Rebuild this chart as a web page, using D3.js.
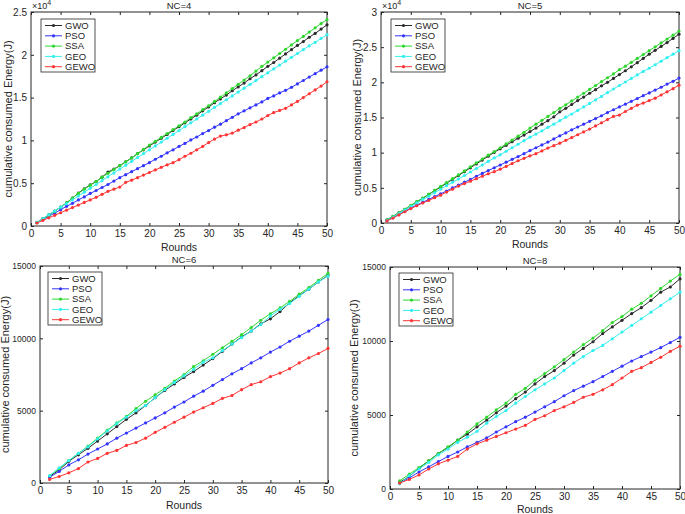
<!DOCTYPE html>
<html>
<head>
<meta charset="utf-8">
<script src="https://cdn.jsdelivr.net/npm/d3@7"></script>
<style>
  body { margin: 0; background: #fff; }
  svg { display: block; font-family: "Liberation Sans", Arial, sans-serif; }
  .tick text { fill: #262626; }
</style>
</head>
<body>
<div id="chart"></div>
<script>
// rounds (x values)
var roundsA = [1,2,3,4,5,6,7,8,9,10,11,12,13,14,15,16,17,18,19,20,21,22,23,24,25,
  26,27,28,29,30,31,32,33,34,35,36,37,38,39,40,41,42,43,44,45,46,47,48,49,50];
var roundsB = [1.67,3.33,5,6.67,8.33,10,11.67,13.33,15,16.67,18.33,20,21.67,23.33,25,
  26.67,28.33,30,31.67,33.33,35,36.67,38.33,40,41.67,43.33,45,46.67,48.33,50];

var seriesNames = ["GWO", "PSO", "SSA", "GEO", "GEWO"];

// NC=4
var nc4GWO = [420,850,1300,1750,2200,2700,3250,3850,4350,4800,5200,5700,6300,6650,7050,7500,7950,8450,8900,9350,
  9800,10250,10700,11150,11600,12050,12500,12950,13450,13900,14400,14850,15300,15800,16250,16700,17200,17650,18150,18650,
  19100,19600,20100,20600,21100,21550,22050,22500,23000,23500];
var nc4PSO = [400,750,1150,1500,1900,2300,2650,3050,3400,3800,4150,4500,4850,5250,5650,6000,6350,6700,7050,7400,
  7800,8150,8550,8900,9300,9650,10050,10400,10800,11150,11550,11900,12300,12700,13100,13450,13800,14150,14500,14900,
  15200,15550,15850,16200,16600,17000,17400,17800,18200,18600];
var nc4SSA = [400,800,1250,1700,2200,2700,3250,3800,4300,4750,5200,5700,6150,6600,7050,7500,7950,8450,8950,9450,
  9900,10350,10800,11250,11700,12150,12650,13100,13600,14050,14550,15050,15550,16050,16550,17050,17550,18100,18650,19150,
  19650,20150,20650,21150,21650,22150,22650,23150,23650,24100];
var nc4GEO = [400,850,1300,1750,2200,2600,3050,3500,3950,4400,4850,5300,5750,6200,6650,7100,7550,8000,8450,8900,
  9350,9800,10250,10700,11150,11600,12050,12500,12950,13400,13850,14300,14750,15200,15650,16100,16550,17000,17450,17900,
  18350,18800,19250,19700,20150,20600,21050,21450,21900,22350];
var nc4GEWO = [350,650,950,1250,1550,1850,2150,2450,2750,3050,3350,3700,4050,4300,4550,5100,5350,5650,5950,6250,
  6550,6850,7150,7400,7750,8150,8500,8900,9300,9750,10150,10500,10650,10850,11200,11500,11850,12150,12500,12900,
  13250,13500,13750,14150,14550,15000,15450,15900,16350,16850];

// NC=5
var nc5GWO = [450,950,1450,1950,2450,3000,3500,4050,4600,5100,5650,6200,6750,7300,7850,8400,8950,9500,10050,10550,
  11050,11550,12050,12500,13000,13500,14050,14550,15100,15800,16300,16850,17400,17900,18450,18950,19500,20000,20550,21100,
  21650,22200,22800,23400,24000,24550,25100,25650,26250,26850];
var nc5PSO = [350,750,1200,1650,2150,2550,2950,3350,3750,4150,4550,5000,5400,5800,6200,6650,7050,7450,7850,8250,
  8650,9050,9450,9850,10300,10700,11100,11500,11950,12400,12800,13250,13650,14050,14450,14850,15250,15700,16100,16500,
  16900,17300,17700,18100,18500,18900,19300,19750,20150,20600];
var nc5SSA = [450,950,1450,1950,2500,3050,3550,4100,4650,5200,5750,6300,6850,7400,8000,8550,9100,9650,10150,10700,
  11250,11800,12350,12900,13500,14050,14600,15150,15700,16300,16800,17350,17900,18450,19000,19550,20100,20650,21200,21800,
  22300,22850,23400,23950,24500,25050,25600,26150,26700,27300];
var nc5GEO = [400,850,1350,1850,2350,2850,3350,3800,4300,4800,5300,5800,6250,6750,7250,7750,8250,8750,9250,9700,
  10200,10700,11200,11700,12200,12650,13100,13600,14050,14550,15050,15500,16000,16500,17000,17500,18000,18550,19050,19550,
  20050,20550,21050,21550,22000,22500,23000,23500,24000,24500];
var nc5GEWO = [300,700,1150,1600,2050,2450,2850,3200,3600,3950,4400,4800,5250,5600,5950,6300,6650,7000,7300,7650,
  8050,8450,8850,9200,9550,9850,10250,10650,11000,11350,11750,12150,12550,12950,13350,13800,14250,14700,15150,15350,
  15850,16300,16750,17050,17400,17750,18200,18650,19100,19600];

// NC=6
var nc6GWO = [450,900,1500,1950,2400,2900,3400,3900,4400,4850,5350,5900,6400,6850,7300,7700,8150,8600,9100,9600,
  10100,10500,11000,11350,11850,12450,12950,13400,13900,14350];
var nc6PSO = [400,800,1250,1600,2000,2350,2700,3100,3450,3800,4150,4500,4850,5250,5600,6000,6350,6750,7150,7550,
  7900,8300,8650,9050,9400,9800,10150,10500,10900,11300];
var nc6SSA = [500,1000,1550,2050,2550,3100,3650,4150,4600,5150,5650,6100,6550,7050,7500,8050,8450,8900,9350,9800,
  10250,10750,11250,11700,12100,12550,13050,13500,14000,14500];
var nc6GEO = [500,1050,1550,2050,2500,3050,3600,4100,4550,5000,5350,5900,6450,6950,7400,7850,8350,8650,9150,9600,
  10050,10500,10950,11550,12000,12400,12900,13400,13900,14300];
var nc6GEWO = [250,450,700,1000,1450,1700,2050,2250,2600,2800,3100,3500,3850,4200,4550,4900,5200,5500,5850,6050,
  6450,6800,7000,7350,7600,7900,8300,8650,8950,9300];

// NC=8
var nc8GWO = [450,850,1400,1900,2400,2800,3300,3700,4200,4650,5150,5600,6100,6550,7100,7600,8000,8500,9050,9500,
  9950,10500,10950,11400,11850,12250,12750,13300,13650,14200];
var nc8PSO = [400,750,1150,1500,1850,2200,2500,2850,3150,3450,3850,4200,4550,4850,5200,5550,5900,6300,6650,6950,
  7250,7600,7950,8300,8650,8950,9250,9550,9900,10250];
var nc8SSA = [550,1000,1450,1900,2400,2850,3300,3850,4400,4850,5350,5800,6400,6800,7350,7800,8250,8750,9250,9750,
  10200,10700,11250,11650,12150,12550,13050,13550,14050,14500];
var nc8GEO = [350,900,1350,1800,2300,2700,3150,3500,3900,4450,4900,5300,5800,6250,6700,7100,7500,8000,8500,8950,
  9350,9700,10150,10600,11050,11500,11950,12400,12850,13300];
var nc8GEWO = [400,650,950,1350,1700,1950,2200,2700,3050,3300,3550,3800,4050,4300,4700,4950,5300,5550,5850,6200,
  6400,6700,7050,7500,7950,8200,8550,8900,9300,9650];

var xTicks = [0,5,10,15,20,25,30,35,40,45,50];
var yTicksA = [0,5000,10000,15000,20000,25000];
var yTicksB = [0,5000,10000,15000,20000,25000,30000];
var yTicksC = [0,5000,10000,15000];

var colors = {GWO: "#2b2b2b", PSO: "#3434ff", SSA: "#2ed82e", GEO: "#33f0f0", GEWO: "#ff3434"};

var svg = d3.select("#chart").append("svg")
  .attr("width", 685)
  .attr("height", 514);

var panels = [
  {title: "NC=4", x: roundsA, data: [nc4GWO, nc4PSO, nc4SSA, nc4GEO, nc4GEWO], yMax: 25000, yTicks: yTicksA, exp: true,
   left: 31, right: 327, top: 12, bottom: 226, ylabX: 12, xlabY: 251, legX: 41, legY: 19, yFont: 10},
  {title: "NC=5", x: roundsA, data: [nc5GWO, nc5PSO, nc5SSA, nc5GEO, nc5GEWO], yMax: 30000, yTicks: yTicksB, exp: true,
   left: 381, right: 679, top: 12, bottom: 223, ylabX: 361, xlabY: 248, legX: 391, legY: 19, yFont: 10},
  {title: "NC=6", x: roundsB, data: [nc6GWO, nc6PSO, nc6SSA, nc6GEO, nc6GEWO], yMax: 15000, yTicks: yTicksC, exp: false,
   left: 40, right: 328, top: 266, bottom: 483, ylabX: 9, xlabY: 509, legX: 48, legY: 272, yFont: 8.5},
  {title: "NC=8", x: roundsB, data: [nc8GWO, nc8PSO, nc8SSA, nc8GEO, nc8GEWO], yMax: 15000, yTicks: yTicksC, exp: false,
   left: 390, right: 680, top: 267, bottom: 489, ylabX: 358, xlabY: 513, legX: 399, legY: 273, yFont: 8.5}
];

panels.forEach(function(p) {
  var xScale = d3.scaleLinear().domain([0, 50]).range([p.left, p.right]);
  var yScale = d3.scaleLinear().domain([0, p.yMax]).range([p.bottom, p.top]);
  var w = p.right - p.left, h = p.bottom - p.top;

  var fmt = p.exp ? function(d) { return d === 0 ? "0" : String(d / 10000); } : d3.format("d");

  // Axes with inward ticks, MATLAB style box
  svg.append("g")
    .attr("transform", `translate(0, ${p.bottom})`)
    .call(d3.axisBottom(xScale).tickValues(xTicks).tickSizeInner(-3).tickSizeOuter(0).tickPadding(4))
    .call(g => g.select(".domain").remove())
    .selectAll("text").attr("font-size", 10);

  svg.append("g")
    .attr("transform", `translate(0, ${p.top})`)
    .call(d3.axisTop(xScale).tickValues(xTicks).tickSizeInner(-3).tickSizeOuter(0).tickFormat(""))
    .call(g => g.select(".domain").remove());

  svg.append("g")
    .attr("transform", `translate(${p.left}, 0)`)
    .call(d3.axisLeft(yScale).tickValues(p.yTicks).tickSizeInner(-3).tickSizeOuter(0).tickPadding(4).tickFormat(fmt))
    .call(g => g.select(".domain").remove())
    .selectAll("text").attr("font-size", p.yFont);

  svg.append("g")
    .attr("transform", `translate(${p.right}, 0)`)
    .call(d3.axisRight(yScale).tickValues(p.yTicks).tickSizeInner(-3).tickSizeOuter(0).tickFormat(""))
    .call(g => g.select(".domain").remove());

  svg.selectAll(".tick line").attr("stroke", "#262626");

  svg.append("rect")
    .attr("x", p.left).attr("y", p.top)
    .attr("width", w).attr("height", h)
    .attr("fill", "none")
    .attr("stroke", "#262626")
    .attr("stroke-width", 1);

  // series lines and markers
  var line = d3.line()
    .x((d, i) => xScale(p.x[i]))
    .y(d => yScale(d));

  p.data.forEach(function(vals, si) {
    var c = colors[seriesNames[si]];
    svg.append("path")
      .datum(vals)
      .attr("d", line)
      .attr("fill", "none")
      .attr("stroke", c)
      .attr("stroke-width", 1);
    svg.append("g").selectAll("circle")
      .data(vals)
      .enter()
      .append("circle")
      .attr("cx", (d, i) => xScale(p.x[i]))
      .attr("cy", d => yScale(d))
      .attr("r", 1.6)
      .attr("fill", c);
  });

  // title
  svg.append("text")
    .attr("x", (p.left + p.right) / 2)
    .attr("y", p.top - 3)
    .attr("text-anchor", "middle")
    .attr("font-size", 9.5)
    .attr("fill", "#262626")
    .text(p.title);

  // exponent
  if (p.exp) {
    var ex = svg.append("text")
      .attr("x", p.left + 1)
      .attr("y", p.top - 3)
      .attr("font-size", 9)
      .attr("fill", "#262626");
    ex.append("tspan").text("\u00d710");
    ex.append("tspan").attr("dy", -4).attr("font-size", 7).text("4");
  }

  // axis labels
  svg.append("text")
    .attr("x", (p.left + p.right) / 2)
    .attr("y", p.xlabY)
    .attr("text-anchor", "middle")
    .attr("font-size", 10.5)
    .attr("fill", "#262626")
    .text("Rounds");

  svg.append("text")
    .attr("transform", `translate(${p.ylabX}, ${(p.top + p.bottom) / 2}) rotate(-90)`)
    .attr("text-anchor", "middle")
    .attr("font-size", 11)
    .attr("fill", "#262626")
    .text("cumulative consumed Energy(J)");

  // legend
  var leg = svg.append("g").attr("transform", `translate(${p.legX}, ${p.legY})`);
  leg.append("rect")
    .attr("width", 54).attr("height", 53)
    .attr("fill", "#fff")
    .attr("stroke", "#262626")
    .attr("stroke-width", 0.8);
  seriesNames.forEach(function(name, i) {
    var yy = 6.5 + i * 10.3;
    leg.append("line")
      .attr("x1", 4).attr("x2", 21)
      .attr("y1", yy).attr("y2", yy)
      .attr("stroke", colors[name]);
    leg.append("circle")
      .attr("cx", 12.5).attr("cy", yy).attr("r", 1.6)
      .attr("fill", colors[name]);
    leg.append("text")
      .attr("x", 24).attr("y", yy)
      .attr("dy", "0.35em")
      .attr("font-size", 9.5)
      .attr("fill", "#262626")
      .text(name);
  });
});
</script>
</body>
</html>
